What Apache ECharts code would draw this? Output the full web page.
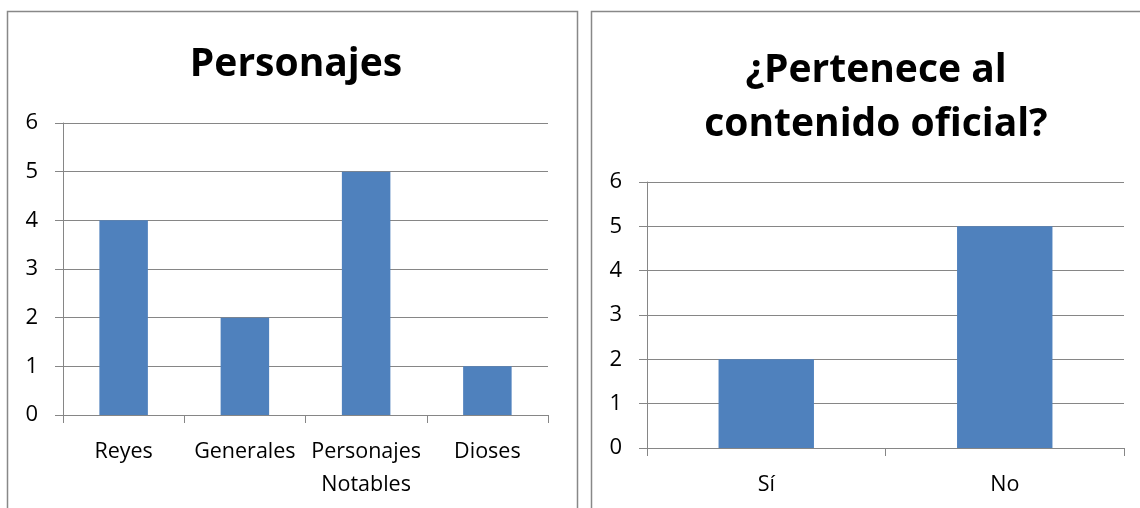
<!DOCTYPE html>
<html><head><meta charset="utf-8">
<script src="https://cdn.jsdelivr.net/npm/echarts@6/dist/echarts.min.js"></script>
<style>html,body{margin:0;padding:0;background:#fff}#c{width:1140px;height:508px}</style>
</head><body><div id="c"></div>
<script>
const leftTitle = 'Personajes';
const leftCategories = ['Reyes', 'Generales', 'Personajes\nNotables', 'Dioses'];
const leftValues = [4, 2, 5, 1];
const rightTitle = '¿Pertenece al\ncontenido oficial?';
const rightCategories = ['Sí', 'No'];
const rightValues = [2, 5];

const font = 'Open Sans';
const gridColor = '#868686';
const barColor = '#4F81BD';

function xAxis(idx, cats) {
  return {
    type: 'category', gridIndex: idx, data: cats,
    axisLine: {lineStyle: {color: gridColor, width: 1}},
    axisTick: {show: true, length: 8, lineStyle: {color: gridColor}},
    axisLabel: {color: '#000', fontFamily: font, fontSize: 21.5, margin: 20, lineHeight: 33, interval: 0}
  };
}
function yAxis(idx) {
  return {
    type: 'value', gridIndex: idx, min: 0, max: 6, interval: 1,
    axisLine: {show: true, lineStyle: {color: gridColor, width: 1}},
    axisTick: {show: true, length: 8, lineStyle: {color: gridColor}},
    splitLine: {show: true, lineStyle: {color: gridColor, width: 1}},
    axisLabel: {color: '#000', fontFamily: font, fontSize: 22, margin: 25}
  };
}

const chart = echarts.init(document.getElementById('c'), null, {renderer: 'canvas'});
chart.setOption({
  backgroundColor: '#fff',
  animation: false,
  title: [
    {text: leftTitle, left: 291, top: 40, textAlign: 'center',
     textStyle: {fontFamily: font, fontWeight: 'bold', fontSize: 39, color: '#000'}},
    {text: rightTitle, left: 871, top: 39, textAlign: 'center',
     textStyle: {fontFamily: font, fontWeight: 'bold', fontSize: 39, color: '#000', lineHeight: 54}}
  ],
  graphic: [
    {type: 'rect', shape: {x: 7.5, y: 11.5, width: 570, height: 520},
     style: {fill: 'none', stroke: '#888', lineWidth: 1.5}, silent: true},
    {type: 'rect', shape: {x: 591.5, y: 11.5, width: 600, height: 520},
     style: {fill: 'none', stroke: '#888', lineWidth: 1.5}, silent: true}
  ],
  grid: [
    {left: 63, top: 123, width: 485, height: 292},
    {left: 647, top: 182, width: 477, height: 266}
  ],
  xAxis: [xAxis(0, leftCategories), xAxis(1, rightCategories)],
  yAxis: [yAxis(0), yAxis(1)],
  series: [
    {type: 'bar', xAxisIndex: 0, yAxisIndex: 0, data: leftValues, barWidth: '40%',
     itemStyle: {color: barColor}},
    {type: 'bar', xAxisIndex: 1, yAxisIndex: 1, data: rightValues, barWidth: '40%',
     itemStyle: {color: barColor}}
  ]
});
</script></body></html>
